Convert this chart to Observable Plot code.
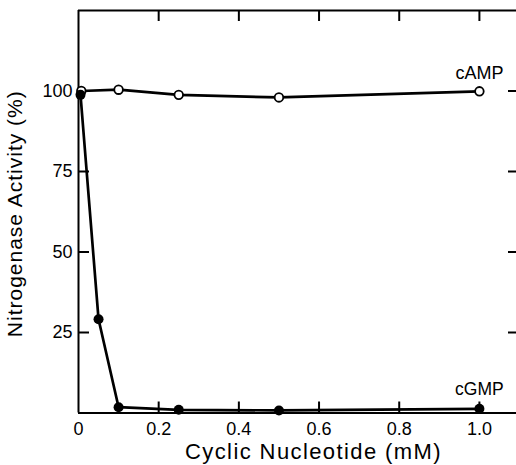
<!DOCTYPE html>
<html><head><meta charset="utf-8">
<script src="https://cdn.jsdelivr.net/npm/d3@7"></script>
<script src="https://cdn.jsdelivr.net/npm/@observablehq/plot@0.6"></script>
<style>body{margin:0;background:#fff}</style>
</head><body><div id="chart"></div>
<script>
// cAMP series (open circles)
const campX = [0.007, 0.1, 0.25, 0.5, 1.0];
const campY = [100, 100.4, 98.8, 98.0, 99.9];
// cGMP series (filled circles)
const cgmpX = [0.005, 0.05, 0.1, 0.25, 0.5, 1.0];
const cgmpY = [98.8, 29.1, 1.8, 1.0, 0.8, 1.3];
// ticks
const xTicks = [0, 0.2, 0.4, 0.6, 0.8, 1.0];
const xTickLabels = ["0", "0.2", "0.4", "0.6", "0.8", "1.0"];
const yTicks = [25, 50, 75, 100];
const yTickLabels = ["25", "50", "75", "100"];
const seriesNames = ["cAMP", "cGMP"];
const xTitle = "Cyclic Nucleotide (mM)";
const yTitle = "Nitrogenase Activity (%)";

const camp = campX.map((x, i) => ({x, y: campY[i]}));
const cgmp = cgmpX.map((x, i) => ({x, y: cgmpY[i]}));
const innerX = xTicks.filter(d => d > 0);
const W = 516, H = 465, mL = 78, mR = -3, mT = 10, mB = 52.5;
const plotH = H - mT - mB, plotW = W - mL - mR;
const TL = 11;
const font = "'Liberation Sans', Arial, sans-serif";

const chart = Plot.plot({
  width: W, height: H,
  marginLeft: mL, marginRight: mR, marginTop: mT, marginBottom: mB,
  style: {fontFamily: font, background: "white", color: "black"},
  x: {domain: [0, 1.1], axis: null},
  y: {domain: [0, 125], axis: null},
  marks: [
    // frame
    Plot.ruleX([0], {x: d => d, stroke: "black", strokeWidth: 2}),
    Plot.ruleY([0], {y: d => d, stroke: "black", strokeWidth: 2}),
    Plot.ruleY([125], {y: d => d, stroke: "black", strokeWidth: 2}),
    // inward ticks
    Plot.tickX(innerX, {x: d => d, insetTop: plotH - TL, stroke: "black", strokeWidth: 2}),
    Plot.tickX(innerX, {x: d => d, insetBottom: plotH - TL, stroke: "black", strokeWidth: 2}),
    Plot.tickY(yTicks, {y: d => d, insetRight: plotW - TL, stroke: "black", strokeWidth: 2}),
    Plot.tickY(yTicks, {y: d => d, insetLeft: plotW - TL, stroke: "black", strokeWidth: 2}),
    // tick labels
    Plot.text(xTicks, {x: d => d, text: (d, i) => xTickLabels[i], frameAnchor: "bottom", lineAnchor: "top", dy: 9.5, fontSize: 18, fill: "black"}),
    Plot.text(yTicks, {y: d => d, text: (d, i) => yTickLabels[i], frameAnchor: "left", textAnchor: "end", dx: -6, fontSize: 18, fill: "black"}),
    // axis titles
    Plot.text([xTitle], {text: d => d, frameAnchor: "bottom", textAnchor: "middle", lineAnchor: "middle", dy: 38.5, dx: 14.5, fontSize: 22, fill: "black"}),
    Plot.text([yTitle], {text: d => d, frameAnchor: "left", textAnchor: "middle", rotate: -90, lineAnchor: "middle", dx: -63, dy: 2, fontSize: 21, fill: "black"}),
    // series
    Plot.line(camp, {x: "x", y: "y", stroke: "black", strokeWidth: 2.7}),
    Plot.line(cgmp, {x: "x", y: "y", stroke: "black", strokeWidth: 2.7}),
    Plot.dot(camp, {x: "x", y: "y", r: 4.3, fill: "white", stroke: "black", strokeWidth: 1.8}),
    Plot.dot(cgmp, {x: "x", y: "y", r: 5, fill: "black", stroke: "black", strokeWidth: 0}),
    // series labels
    Plot.text([camp[camp.length - 1]], {x: "x", y: "y", text: () => seriesNames[0], lineAnchor: "middle", dy: -18, fontSize: 18, fill: "black"}),
    Plot.text([cgmp[cgmp.length - 1]], {x: "x", y: "y", text: () => seriesNames[1], lineAnchor: "middle", dy: -19, fontSize: 17.5, fill: "black"})
  ]
});
d3.select(chart).selectAll("text").each(function() {
  const t = this.textContent;
  if (t === xTitle) d3.select(this).style("letter-spacing", "1.4px");
  if (t === yTitle) d3.select(this).style("letter-spacing", "1px");
});
document.getElementById("chart").appendChild(chart);
</script>
</body></html>
